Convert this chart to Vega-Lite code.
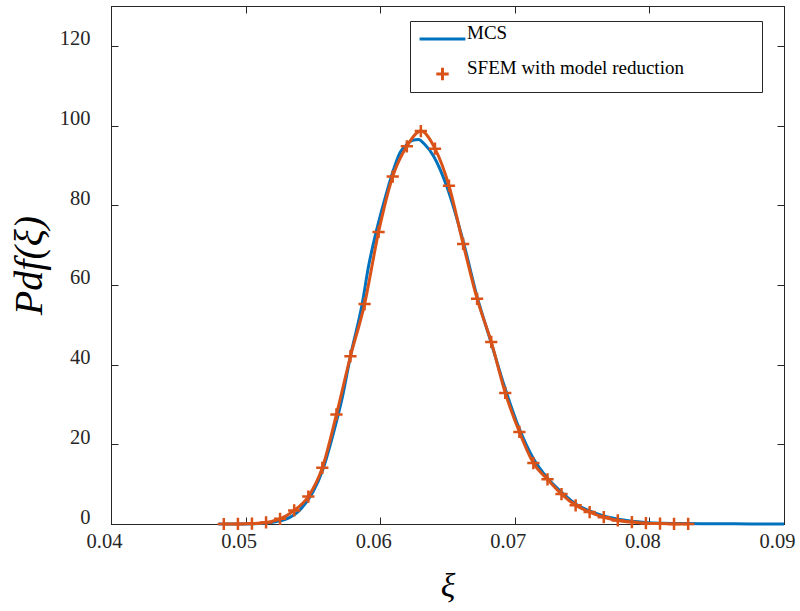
{
  "$schema": "https://vega.github.io/schema/vega-lite/v6.json",
  "width": 673,
  "height": 518,
  "autosize": "none",
  "padding": {"left": 111, "top": 6, "right": 16, "bottom": 87},
  "background": "white",
  "config": {
    "view": {"stroke": "#262626", "strokeWidth": 1},
    "axis": {
      "domainColor": "#262626", "tickColor": "#262626", "labelColor": "#262626",
      "labelFont": "Liberation Serif", "labelFontSize": 20.5, "grid": false,
      "tickSize": -7, "domainWidth": 1, "tickWidth": 1, "labelFlush": false, "labelOverlap": false
    }
  },
  "datasets": {
    "mcs": [
      {"x": 0.0480, "y": 0}, {"x": 0.0500, "y": 0.03}, {"x": 0.0510, "y": 0.1}, {"x": 0.0520, "y": 0.45},
      {"x": 0.0530, "y": 1.2}, {"x": 0.0540, "y": 3.4}, {"x": 0.0550, "y": 8.0}, {"x": 0.0557, "y": 13.3},
      {"x": 0.0565, "y": 22.5}, {"x": 0.0572, "y": 32}, {"x": 0.0578, "y": 42.3}, {"x": 0.05866, "y": 55.2},
      {"x": 0.05913, "y": 64.6}, {"x": 0.05970, "y": 73.3}, {"x": 0.0603, "y": 81}, {"x": 0.0609, "y": 88},
      {"x": 0.06149, "y": 93.3}, {"x": 0.06191, "y": 95.0}, {"x": 0.0624, "y": 96.3}, {"x": 0.06285, "y": 96.5},
      {"x": 0.0633, "y": 95.3}, {"x": 0.06397, "y": 92.3}, {"x": 0.06497, "y": 84.5}, {"x": 0.0662, "y": 70.5},
      {"x": 0.0672, "y": 57}, {"x": 0.0682, "y": 46}, {"x": 0.0693, "y": 33.8}, {"x": 0.0703, "y": 24.2},
      {"x": 0.0714, "y": 16.3}, {"x": 0.0724, "y": 11.6}, {"x": 0.0735, "y": 7.9}, {"x": 0.0745, "y": 5.1},
      {"x": 0.0756, "y": 3.2}, {"x": 0.0766, "y": 2.0}, {"x": 0.0777, "y": 1.2}, {"x": 0.0787, "y": 0.7},
      {"x": 0.0797, "y": 0.4}, {"x": 0.0810, "y": 0.2}, {"x": 0.0825, "y": 0.1}, {"x": 0.0850, "y": 0.05},
      {"x": 0.0875, "y": 0.02}, {"x": 0.0900, "y": 0.0}
    ],
    "sfem": [
      {"x": 0.04838, "y": 0}, {"x": 0.04943, "y": 0.02}, {"x": 0.05047, "y": 0.1}, {"x": 0.05152, "y": 0.4},
      {"x": 0.05256, "y": 1.3}, {"x": 0.05361, "y": 3.4}, {"x": 0.05466, "y": 6.9}, {"x": 0.05570, "y": 14.1},
      {"x": 0.05675, "y": 27.5}, {"x": 0.05779, "y": 42.1}, {"x": 0.05884, "y": 55.2}, {"x": 0.05988, "y": 73.3},
      {"x": 0.06093, "y": 87.2}, {"x": 0.06198, "y": 94.8}, {"x": 0.06302, "y": 98.6}, {"x": 0.06407, "y": 94.2},
      {"x": 0.06511, "y": 84.9}, {"x": 0.06616, "y": 70.3}, {"x": 0.06720, "y": 56.5}, {"x": 0.06825, "y": 45.7},
      {"x": 0.06929, "y": 32.9}, {"x": 0.07034, "y": 23.1}, {"x": 0.07138, "y": 15.3}, {"x": 0.07243, "y": 11.2},
      {"x": 0.07347, "y": 7.5}, {"x": 0.07452, "y": 4.7}, {"x": 0.07556, "y": 3.0}, {"x": 0.07661, "y": 1.7},
      {"x": 0.07765, "y": 0.9}, {"x": 0.07870, "y": 0.5}, {"x": 0.07974, "y": 0.2}, {"x": 0.08079, "y": 0.1},
      {"x": 0.08183, "y": 0.03}, {"x": 0.08288, "y": 0.01}
    ]
  },
  "resolve": {"axis": {"x": "independent", "y": "independent"}},
  "layer": [
    {
      "data": {"name": "mcs"},
      "mark": {"type": "line", "strokeWidth": 3, "interpolate": "monotone"},
      "encoding": {
        "x": {"field": "x", "type": "quantitative", "scale": {"domain": [0.04, 0.09], "nice": false, "zero": false},
          "axis": {"values": [0.04, 0.05, 0.06, 0.07, 0.08, 0.09], "format": ".2f", "labelOffset": -7, "labelPadding": 14,
            "title": "ξ", "titleFont": "Liberation Serif", "titleFontStyle": "italic", "titleFontSize": 34,
            "titleFontWeight": "normal", "titleColor": "#000", "titlePadding": 18}},
        "y": {"field": "y", "type": "quantitative", "scale": {"domain": [0, 130], "nice": false},
          "axis": {"values": [0, 20, 40, 60, 80, 100, 120], "labelOffset": -7, "labelPadding": 28,
            "title": "Pdf(ξ)", "titleFont": "Liberation Serif", "titleFontStyle": "italic", "titleFontSize": 40,
            "titleFontWeight": "normal", "titleColor": "#000", "titlePadding": 10}},
        "color": {"datum": "MCS", "type": "nominal",
          "scale": {"domain": ["MCS", "SFEM with model reduction"], "range": ["#0072BD", "#D95319"]},
          "legend": {
            "orient": "none", "legendX": 299, "legendY": 15, "title": null,
            "strokeColor": "#262626", "fillColor": "white", "padding": 8,
            "labelFont": "Liberation Serif", "labelFontSize": 19, "labelColor": "#000", "labelLimit": 600,
            "labelOffset": 0, "symbolSize": 2100, "symbolStrokeWidth": 3, "clipHeight": 20, "rowPadding": 10,
            "labelExpr": "datum.label === 'MCS' ? datum.label : datum.label + '\u2800\u2800\u2800\u2800\u2800'",
            "encode": {
              "labels": {"update": {"dy": {"value": -6}}},
              "symbols": {"update": {
                "shape": {"signal": "datum.value === 'MCS' ? 'stroke' : 'M-0.27,0H0.27M0,-0.27V0.27'"},
                "stroke": {"signal": "datum.value === 'MCS' ? '#0072BD' : '#D95319'"},
                "fill": {"value": "transparent"},
                "opacity": {"value": 1}
              }}
            }
          }}
      }
    },
    {
      "data": {"name": "sfem"},
      "mark": {"type": "line", "strokeWidth": 3, "interpolate": "monotone"},
      "encoding": {
        "x": {"field": "x", "type": "quantitative",
          "axis": {"orient": "top", "values": [0.04, 0.05, 0.06, 0.07, 0.08, 0.09], "labels": false, "title": null}},
        "y": {"field": "y", "type": "quantitative",
          "axis": {"orient": "right", "values": [0, 20, 40, 60, 80, 100, 120], "labels": false, "title": null}},
        "color": {"datum": "SFEM with model reduction", "type": "nominal"}
      }
    },
    {
      "data": {"name": "sfem"},
      "mark": {"type": "point", "shape": "M-1,0H1M0,-1V1", "size": 150, "strokeWidth": 2.5, "filled": false, "opacity": 1},
      "encoding": {
        "x": {"field": "x", "type": "quantitative", "axis": null},
        "y": {"field": "y", "type": "quantitative", "axis": null},
        "color": {"datum": "SFEM with model reduction", "type": "nominal"}
      }
    }
  ]
}
